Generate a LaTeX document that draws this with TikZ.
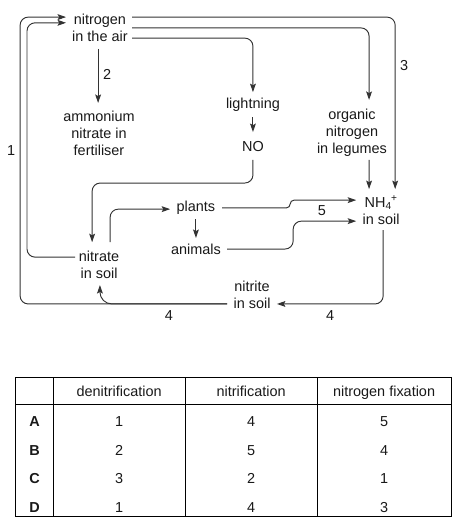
\documentclass[tikz,border=0pt]{standalone}
\usepackage{fontspec}
\setmainfont{Liberation Sans}
\usetikzlibrary{arrows.meta}

\begin{document}
\begin{tikzpicture}[
  txt/.style={align=center, inner sep=0pt, text=black!90, font=\fontsize{13.7}{16.1}\selectfont},
  cell/.style={txt, anchor=base},
  flow/.style={draw=black!80, line width=0.9pt, rounded corners=0.27cm},
  arr/.style={flow, -{Stealth[length=8pt,width=5.5pt,inset=1.5pt]}},
  tab/.style={draw=black, line width=0.8pt}
]
\useasboundingbox (0,0) rectangle (15.3,-17.53);

\node[txt] (air) at (3.33,-0.93) {nitrogen\\in the air};
\node[txt] (fert) at (3.30,-4.43) {ammonium\\nitrate in\\fertiliser};
\node[txt] (light) at (8.43,-3.50) {lightning};
\node[txt] (no) at (8.43,-4.87) {NO};
\node[txt] (leg) at (11.73,-4.43) {organic\\nitrogen\\in legumes};
\node[txt] (ammon) at (12.70,-7.00) {NH\textsubscript{4}\kern-0.05em\textsuperscript{+}\\in soil};
\node[txt] (plants) at (6.53,-6.93) {plants};
\node[txt] (animals) at (6.53,-8.30) {animals};
\node[txt] (nitrate) at (3.30,-8.83) {nitrate\\in soil};
\node[txt] (nitrite) at (8.40,-9.83) {nitrite\\in soil};

\node[txt] (n1) at (0.37,-5.03) {1};
\node[txt] (n2) at (3.57,-2.47) {2};
\node[txt] (n3) at (13.47,-2.20) {3};
\node[txt] (n5) at (10.73,-7.03) {5};
\node[txt] (n4a) at (5.63,-10.53) {4};
\node[txt] (n4b) at (11.00,-10.53) {4};

% out of the air
\draw[arr] ([shift={(1.07,0.36)}]air.center) -| ([shift={(0.47,0.70)}]ammon.center);
\draw[arr] ([shift={(1.07,0)}]air.center) -| ([shift={(0.57,1.10)}]leg.center);
\draw[arr] ([shift={(1.07,-0.34)}]air.center) -| ([shift={(0,0.43)}]light.center);
\draw[arr] ([shift={(-0.06,-0.70)}]air.center) -- ([shift={(-0.03,1.00)}]fert.center);
\draw[arr] ([yshift=-0.40cm]light.center) -- ([yshift=0.47cm]no.center);
\draw[arr] ([yshift=-0.46cm]no.center) -- ++(0,-0.77) -| ([shift={(-0.23,0.76)}]nitrate.center);
\draw[arr] ([shift={(0.57,-0.90)}]leg.center) -- ([shift={(-0.40,0.70)}]ammon.center);

% soil
\draw[arr] ([shift={(0.37,0.76)}]nitrate.center) |- ([shift={(-0.86,-0.04)}]plants.center);
\draw[arr] ([yshift=-0.37cm]plants.center) -- ([yshift=0.37cm]animals.center);
\draw[arr, rounded corners=0.13cm] ([xshift=0.87cm]plants.center) -| ([shift={(-3.03,0.33)}]ammon.center) -- ([shift={(-0.83,0.33)}]ammon.center);
\draw[arr] ([xshift=1.04cm]animals.center) -| ([shift={(-2.93,-0.37)}]ammon.center) -- ([shift={(-0.83,-0.37)}]ammon.center);
\draw[arr] ([shift={(0.07,-0.67)}]ammon.center) |- ([shift={(0.83,-0.30)}]nitrite.center);
\draw[arr, rounded corners=0.4cm] ([shift={(-0.83,-0.30)}]nitrite.center) -| ([shift={(0.03,-0.67)}]nitrate.center);

% back to the air
\draw[arr] ([shift={(-0.83,-0.30)}]nitrite.center) -| (0.67,-0.57) -- ([shift={(-1.13,0.36)}]air.center);
\draw[arr] ([shift={(-0.80,0.26)}]nitrate.center) -| (0.90,-0.76) -- ([shift={(-1.13,0.17)}]air.center);

% table
\draw[tab] (0.53,-12.57) rectangle (15.03,-17.20);
\draw[tab] (0.53,-13.47) -- (15.03,-13.47);
\draw[tab] (1.77,-12.57) -- (1.77,-17.20);
\draw[tab] (6.17,-12.57) -- (6.17,-17.20);
\draw[tab] (10.57,-12.57) -- (10.57,-17.20);

\node[cell] (hd1) at (3.97,-13.23) {denitrification};
\node[cell] (hd2) at (8.37,-13.23) {nitrification};
\node[cell] (hd3) at (12.80,-13.23) {nitrogen fixation};

\node[cell] (rA) at (1.15,-14.23) {\textbf{A}};
\node[cell] (rA1) at (3.97,-14.23) {1};
\node[cell] (rA2) at (8.37,-14.23) {4};
\node[cell] (rA3) at (12.80,-14.23) {5};

\node[cell] (rB) at (1.15,-15.17) {\textbf{B}};
\node[cell] (rB1) at (3.97,-15.17) {2};
\node[cell] (rB2) at (8.37,-15.17) {5};
\node[cell] (rB3) at (12.80,-15.17) {4};

\node[cell] (rC) at (1.15,-16.10) {\textbf{C}};
\node[cell] (rC1) at (3.97,-16.10) {3};
\node[cell] (rC2) at (8.37,-16.10) {2};
\node[cell] (rC3) at (12.80,-16.10) {1};

\node[cell] (rD) at (1.15,-17.07) {\textbf{D}};
\node[cell] (rD1) at (3.97,-17.07) {1};
\node[cell] (rD2) at (8.37,-17.07) {4};
\node[cell] (rD3) at (12.80,-17.07) {3};
\end{tikzpicture}
\end{document}
